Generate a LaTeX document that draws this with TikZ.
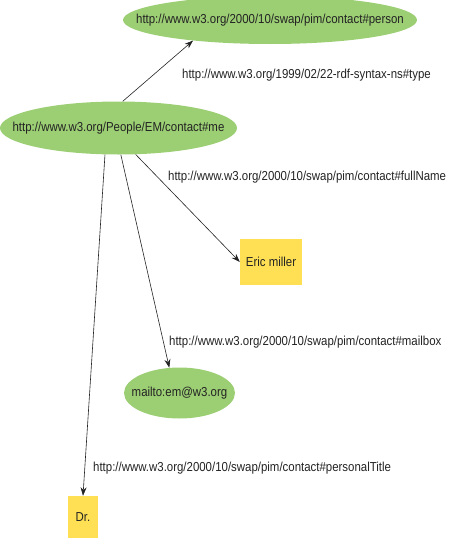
\documentclass[tikz,border=0pt]{standalone}
\usepackage{fontspec}
\setmainfont[FakeStretch=0.88]{Liberation Sans}
\usetikzlibrary{shapes.geometric,arrows.meta}
\definecolor{nodegreen}{RGB}{156,206,116}
\definecolor{nodeyellow}{RGB}{255,224,84}
\definecolor{inkgray}{RGB}{35,35,35}
\tikzset{
  res/.style={ellipse, fill=nodegreen, draw=none, inner sep=0pt, text=inkgray},
  lit/.style={rectangle, fill=nodeyellow, draw=none, inner sep=0pt, text=inkgray},
  prop/.style={anchor=west, inner sep=0pt, text=inkgray},
  edge/.style={draw=inkgray, line width=0.6pt, -{Stealth[length=8.5pt,width=6pt]}},
}
\newcommand{\zb}[1]{\makebox[0pt]{#1}}
\begin{document}
\begin{tikzpicture}[x=1pt,y=-1pt,font=\fontsize{13}{15}\selectfont]
\useasboundingbox (0,0) rectangle (450,546);
\node[res, minimum width=294pt, minimum height=48pt] (person) at (270,20) {\zb{http://www.w3.org/2000/10/swap/pim/contact\#person}};
\node[res, minimum width=237pt, minimum height=53pt] (me) at (118.5,128) {\zb{http://www.w3.org/People/EM/contact\#me}};
\node[lit, minimum width=62pt, minimum height=46pt] (eric) at (271,262) {Eric miller};
\node[res, minimum width=111pt, minimum height=51pt] (mail) at (179.5,393) {\zb{mailto:em@w3.org}};
\node[lit, minimum width=30pt, minimum height=42pt] (dr) at (83,517) {Dr.};

\node[prop] (ptype) at (182,75) {http://www.w3.org/1999/02/22-rdf-syntax-ns\#type};
\node[prop] (pname) at (168,177) {http://www.w3.org/2000/10/swap/pim/contact\#fullName};
\node[prop] (pmail) at (169,342) {http://www.w3.org/2000/10/swap/pim/contact\#mailbox};
\node[prop] (ptitle) at (93,468) {http://www.w3.org/2000/10/swap/pim/contact\#personalTitle};

\draw[edge] (me.81.6) -- (person.195);
\draw[edge] (me.-57.8) -- (eric.west);
\draw[edge] (me.-85.8) -- (mail.112.8);
\draw[edge] (me.-117.4) -- (dr.north);
\end{tikzpicture}
\end{document}
